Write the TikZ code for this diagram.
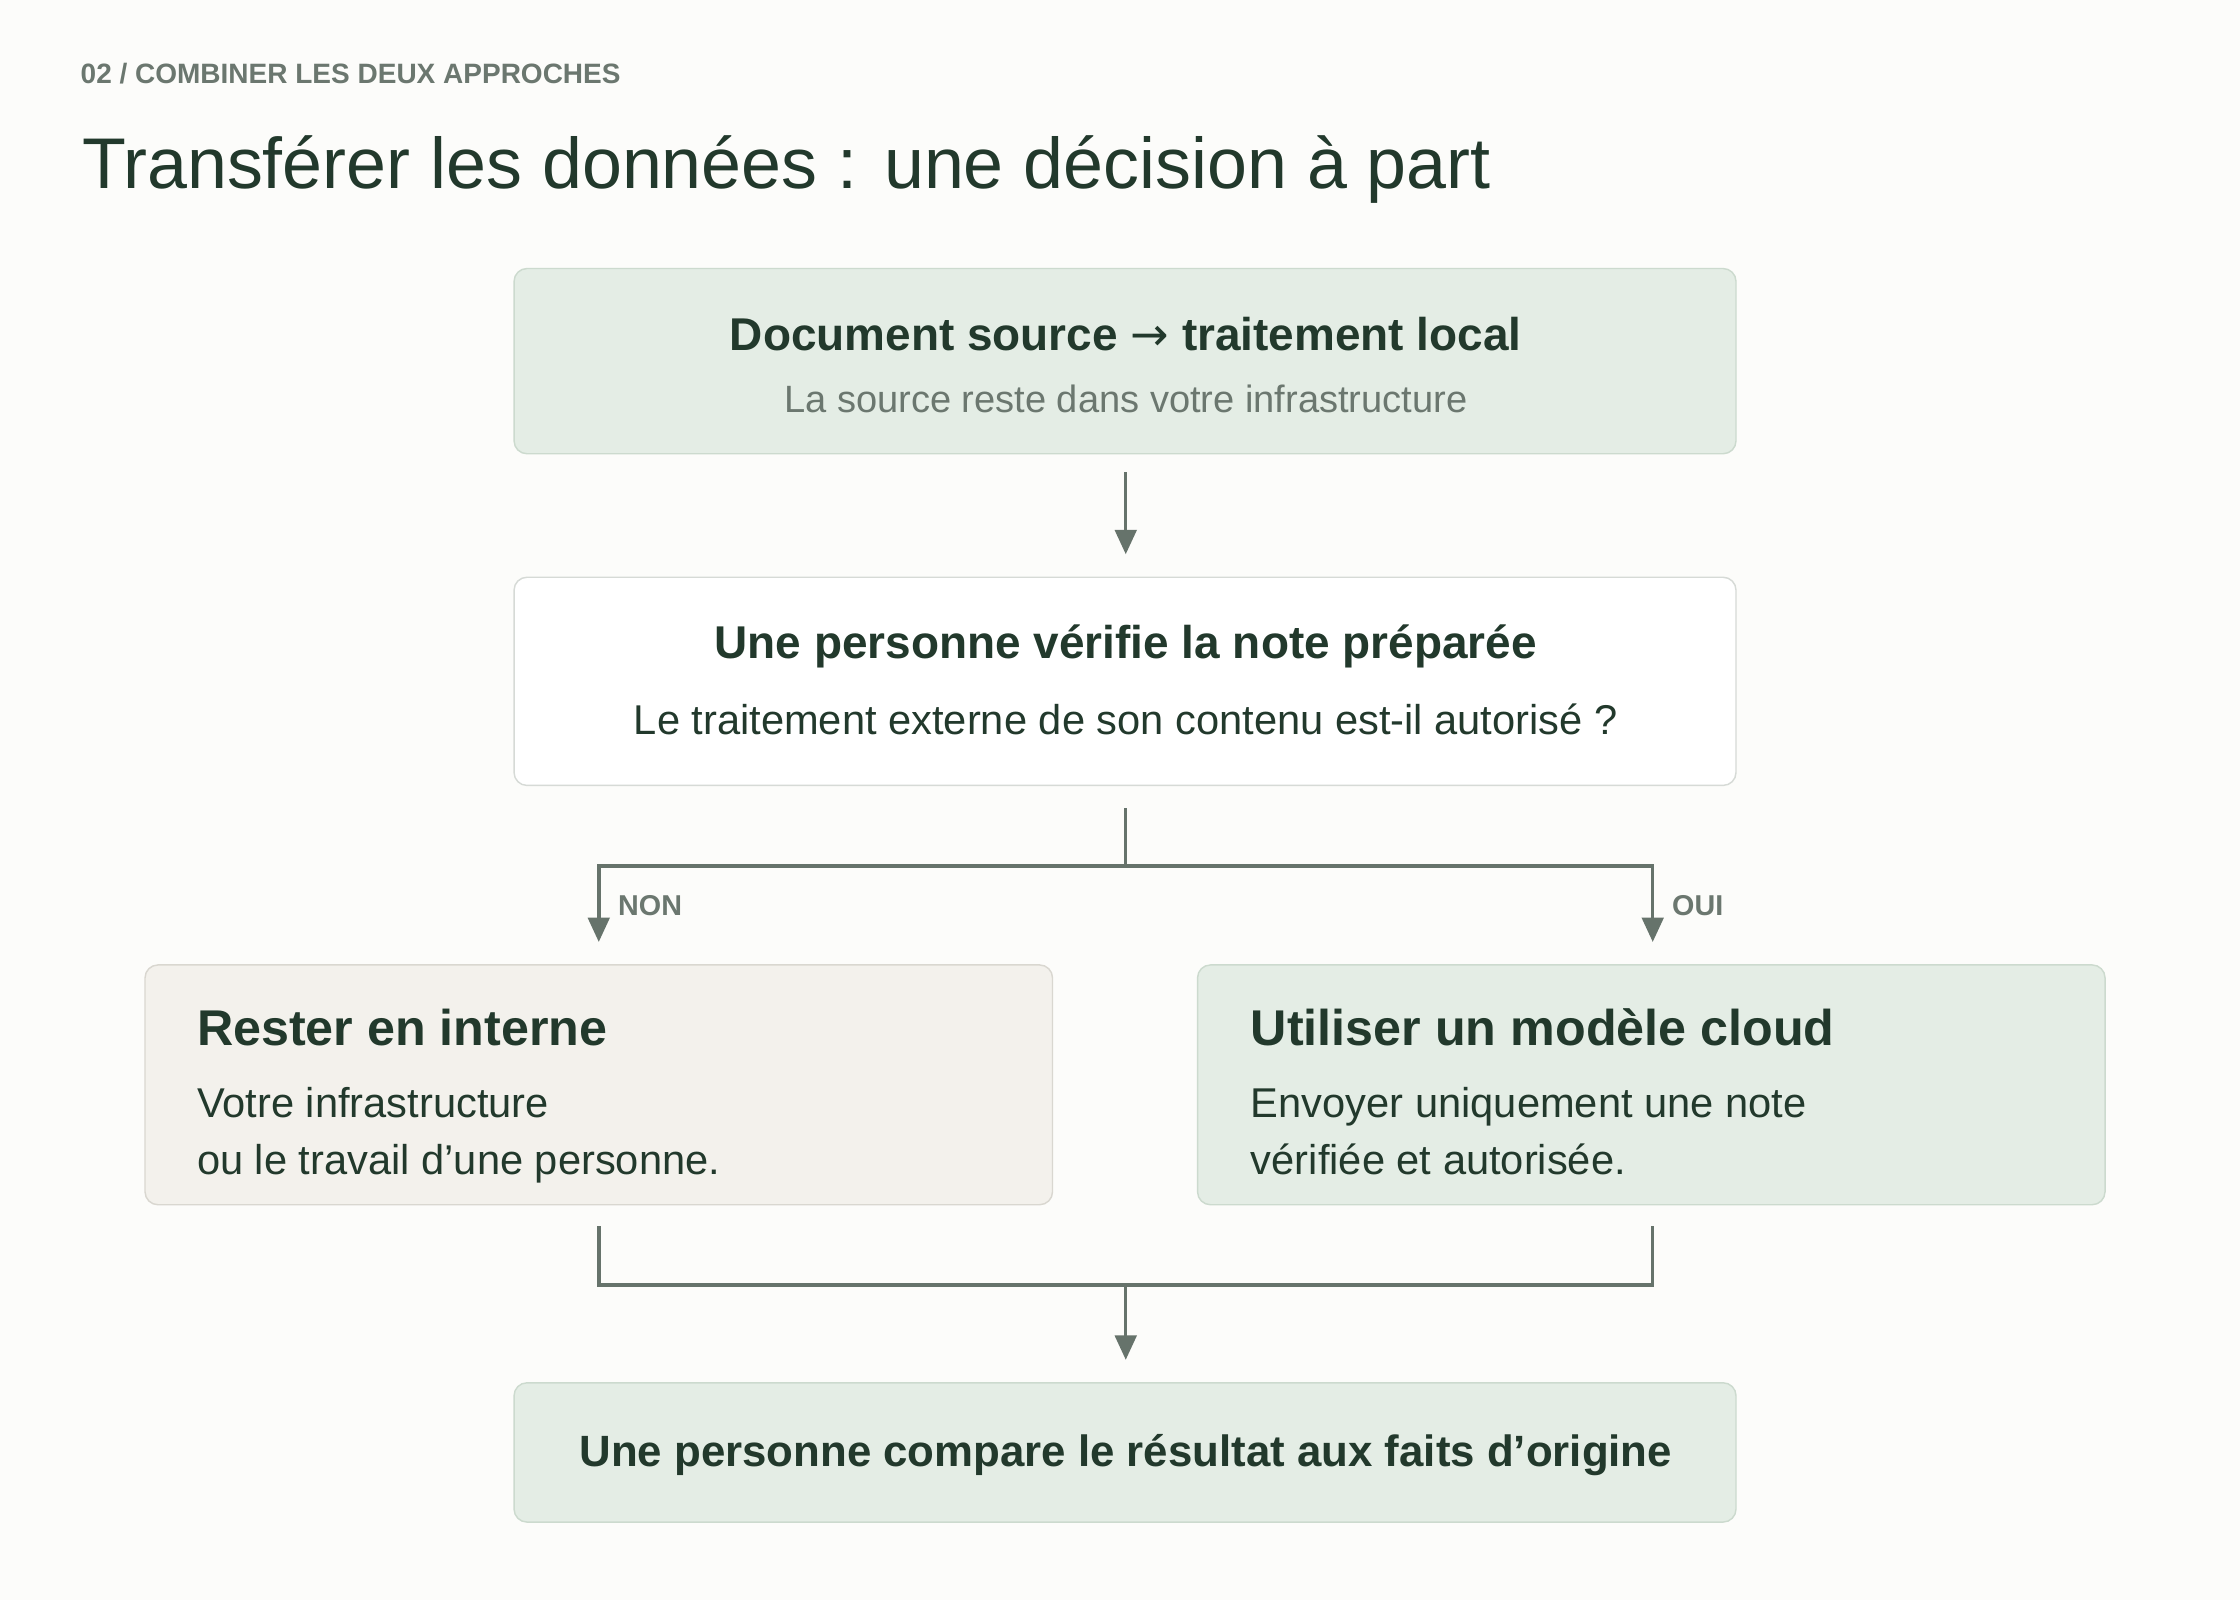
\documentclass[tikz,border=0pt]{standalone}
\usepackage{fontspec}
\setmainfont{Liberation Sans}
\newfontfamily\dv{DejaVu Sans}
\usetikzlibrary{arrows.meta}
\definecolor{bg}{HTML}{FCFCFA}
\definecolor{dk}{HTML}{22392C}
\definecolor{gr}{HTML}{6B776F}
\definecolor{grn}{HTML}{E4EDE5}
\definecolor{grnb}{HTML}{CCDACE}
\definecolor{beig}{HTML}{F3F1EC}
\definecolor{beigb}{HTML}{D9D7D0}
\definecolor{wb}{HTML}{D6DAD6}
\definecolor{ln}{HTML}{66736B}
\begin{document}
\begin{tikzpicture}[x=1pt,y=-1pt,
 box/.style={draw,rounded corners=9pt,line width=1pt},
 arr/.style={draw=ln,line width=2.4pt,-{Triangle[length=17pt,width=15pt]}},
 ln/.style={draw=ln,line width=2.4pt},
 h/.style={font=\fontsize{32}{36}\selectfont\bfseries,text=dk},
 s/.style={font=\fontsize{26.5}{30}\selectfont,text=dk},
 bd/.style={font=\fontsize{29}{34}\selectfont,text=dk,anchor=base west,inner sep=0},
 hd2/.style={font=\fontsize{35}{40}\selectfont\bfseries,text=dk,anchor=base west,inner sep=0},
 lab/.style={font=\fontsize{20}{24}\selectfont\bfseries,text=gr,anchor=west}]
\fill[bg] (0,0) rectangle (1560,1114);
\useasboundingbox (0,0) rectangle (1560,1114);
\node[anchor=base west,font=\fontsize{19.5}{24}\selectfont\bfseries,text=gr,inner sep=0] (hd) at (56,58) {02 / COMBINER LES DEUX APPROCHES};
\node[anchor=base west,font=\fontsize{50}{58}\selectfont,text=dk,inner sep=0] (tt) at (57,131) {Transférer les données : une décision à part};
\path[box,draw=grnb,fill=grn] (358,187) rectangle (1209,316);
\node[h] (t1) at (784,233) {Document source {\dv\mdseries →} traitement local};
\node[s,text=gr] (t1s) at (784,278) {La source reste dans votre infrastructure};
\coordinate (b1) at (784,329);
\coordinate (a2) at (784,386);
\path[box,draw=wb,fill=white] (358,402) rectangle (1209,547);
\node[h] (t2) at (784,450) {Une personne vérifie la note préparée};
\node[s,font=\fontsize{29}{34}\selectfont] (t2s) at (784,501) {Le traitement externe de son contenu est-il autorisé ?};
\coordinate (b2) at (784,563);
\coordinate (j) at (784,603);
\coordinate (al) at (417,656);
\coordinate (ar) at (1151,656);
\path[box,draw=beigb,fill=beig] (101,672) rectangle (733,839);
\node[hd2] (l1) at (137,728) {Rester en interne};
\node[bd] (l2) at (137,778) {Votre infrastructure};
\node[bd] (l3) at (137,818) {ou le travail d’une personne.};
\path[box,draw=grnb,fill=grn] (834,672) rectangle (1466,839);
\node[hd2] (r1) at (871,728) {Utiliser un modèle cloud};
\node[bd] (r2) at (871,778) {Envoyer uniquement une note};
\node[bd] (r3) at (871,818) {vérifiée et autorisée.};
\coordinate (lb) at (417,854);
\coordinate (rb) at (1151,854);
\coordinate (j2) at (784,895);
\coordinate (a5) at (784,947);
\path[box,draw=grnb,fill=grn] (358,963) rectangle (1209,1060);
\node[h,font=\fontsize{30.5}{36}\selectfont\bfseries] (t5) at (784,1013) {Une personne compare le résultat aux faits d’origine};
\draw[arr] (b1) -- (a2);
\draw[ln] (b2) -- (j);
\draw[arr] (j) -| (al);
\draw[arr] (j) -| (ar);
\node[lab] at (427,631) {NON};
\node[lab] at (1161,631) {OUI};
\draw[ln] (lb) |- (j2) -| (rb);
\draw[arr] (j2) -- (a5);
\end{tikzpicture}
\end{document}
